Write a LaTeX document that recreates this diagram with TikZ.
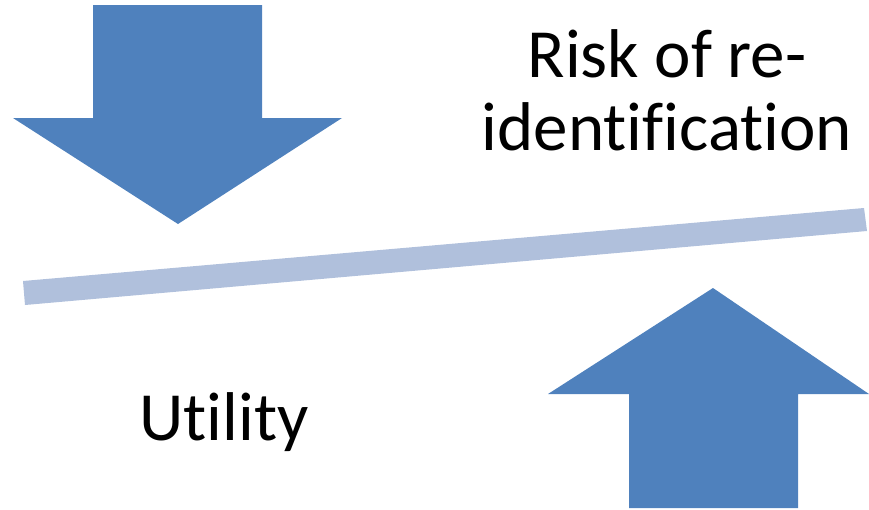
\documentclass[tikz,border=0pt]{standalone}
\usepackage{fontspec}
\setmainfont{Carlito}[Ligatures={NoCommon,NoRare}]
\definecolor{arrowblue}{HTML}{4F81BD}
\definecolor{barblue}{HTML}{B0C0DC}
\begin{document}
\begin{tikzpicture}[x=1pt,y=-1pt,
  bigarrow/.style={fill=arrowblue,draw=none},
  beam/.style={fill=barblue,draw=none},
  label/.style={font=\fontsize{69}{73}\selectfont,align=center,inner sep=0pt}]
\useasboundingbox (0,0) rectangle (869,509);
% down arrow
\fill[bigarrow] (93,5) -- (262,5) -- (262,118) -- (342,118) -- (178,224) -- (13,118) -- (93,118) -- cycle;
% up arrow
\fill[bigarrow] (713,288) -- (869,394) -- (798,394) -- (798,508) -- (629,508) -- (629,394) -- (548,394) -- cycle;
% beam
\fill[beam] (23,281) -- (864,208) -- (867,231) -- (25,305) -- cycle;
% texts
\node[label,anchor=base] (risk) at (667,150) {Risk of re-\\identification};
\node[label,anchor=base west] (util) at (139,440) {Utility};
\end{tikzpicture}
\end{document}
